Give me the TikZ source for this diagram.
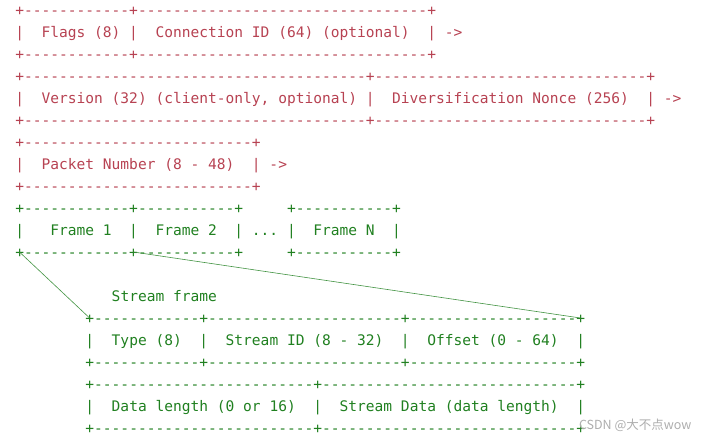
\documentclass[tikz,border=0pt]{standalone}
\usepackage{fontspec}
\setmonofont{DejaVu Sans Mono}
\newfontfamily\cjk{Noto Sans CJK SC}
\definecolor{hdrred}{RGB}{183,66,82}
\definecolor{frmgreen}{RGB}{32,128,32}
\newcommand{\dsh}[1]{\foreach \i in {1,...,#1}{-}}
\tikzset{
	txt/.style={anchor=base west, inner sep=0pt, font=\ttfamily\fontsize{14.56}{22}\selectfont\frenchspacing},
	hdr/.style={txt, text=hdrred},
	frm/.style={txt, text=frmgreen},
	zoomline/.style={frmgreen!85, line width=0.6pt}
}

\begin{document}
\begin{tikzpicture}[x=8.767pt, y=-22pt]
	\useasboundingbox (-1.7224,-0.6818) rectangle (78.35,19.273);
	% public header
	\node[hdr] (flagstop) at (0,0) {+\dsh{12}+\dsh{33}+};
	\node[hdr] (flagsrow) at (0,1) {|~~Flags (8)~|~~Connection ID (64) (optional)~~|~->};
	\node[hdr] (flagsbot) at (0,2) {+\dsh{12}+\dsh{33}+};
	\node[hdr] (versiontop) at (0,3) {+\dsh{39}+\dsh{31}+};
	\node[hdr] (versionrow) at (0,4) {|~~Version (32) (client-only, optional)~|~~Diversification Nonce (256)~~|~->};
	\node[hdr] (versionbot) at (0,5) {+\dsh{39}+\dsh{31}+};
	\node[hdr] (pkttop) at (0,6) {+\dsh{26}+};
	\node[hdr] (pktrow) at (0,7) {|~~Packet Number (8 - 48)~~|~->};
	\node[hdr] (pktbot) at (0,8) {+\dsh{26}+};
	% frames
	\node[frm] (frmtop) at (0,9) {+\dsh{12}+\dsh{11}+~~~~~+\dsh{11}+};
	\node[frm] (frmrow) at (0,10) {|~~~Frame 1~~|~~Frame 2~~|~...~|~~Frame N~~|};
	\node[frm] (frmbot) at (0,11) {+\dsh{12}+\dsh{11}+~~~~~+\dsh{11}+};
	% stream frame
	\node[frm] (sftitle) at (11,13) {Stream frame};
	\node[frm] (sftop) at (8,14) {+\dsh{12}+\dsh{22}+\dsh{19}+};
	\node[frm] (sfrow) at (8,15) {|~~Type (8)~~|~~Stream ID (8 - 32)~~|~~Offset (0 - 64)~~|};
	\node[frm] (sfmid) at (8,16) {+\dsh{12}+\dsh{22}+\dsh{19}+};
	\node[frm] (datatop) at (8,17) {+\dsh{25}+\dsh{29}+};
	\node[frm] (datarow) at (8,18) {|~~Data length (0 or 16)~~|~~Stream Data (data length)~~|};
	\node[frm] (databot) at (8,19) {+\dsh{25}+\dsh{29}+};
	\coordinate (f1sw) at (0.5,10.773);
	\coordinate (f1se) at (13.5,10.773);
	\coordinate (sfnw) at (8.5,13.773);
	\coordinate (sfne) at (64.5,13.773);
	\draw[zoomline] (f1sw) -- (sfnw);
	\draw[zoomline] (f1se) -- (sfne);
	\node[anchor=base west, inner sep=0pt, text=black!32, font=\cjk\fontsize{12.5}{14}\selectfont] (mark) at (64.3,18.85) {CSDN @大不点wow};
\end{tikzpicture}
\end{document}
